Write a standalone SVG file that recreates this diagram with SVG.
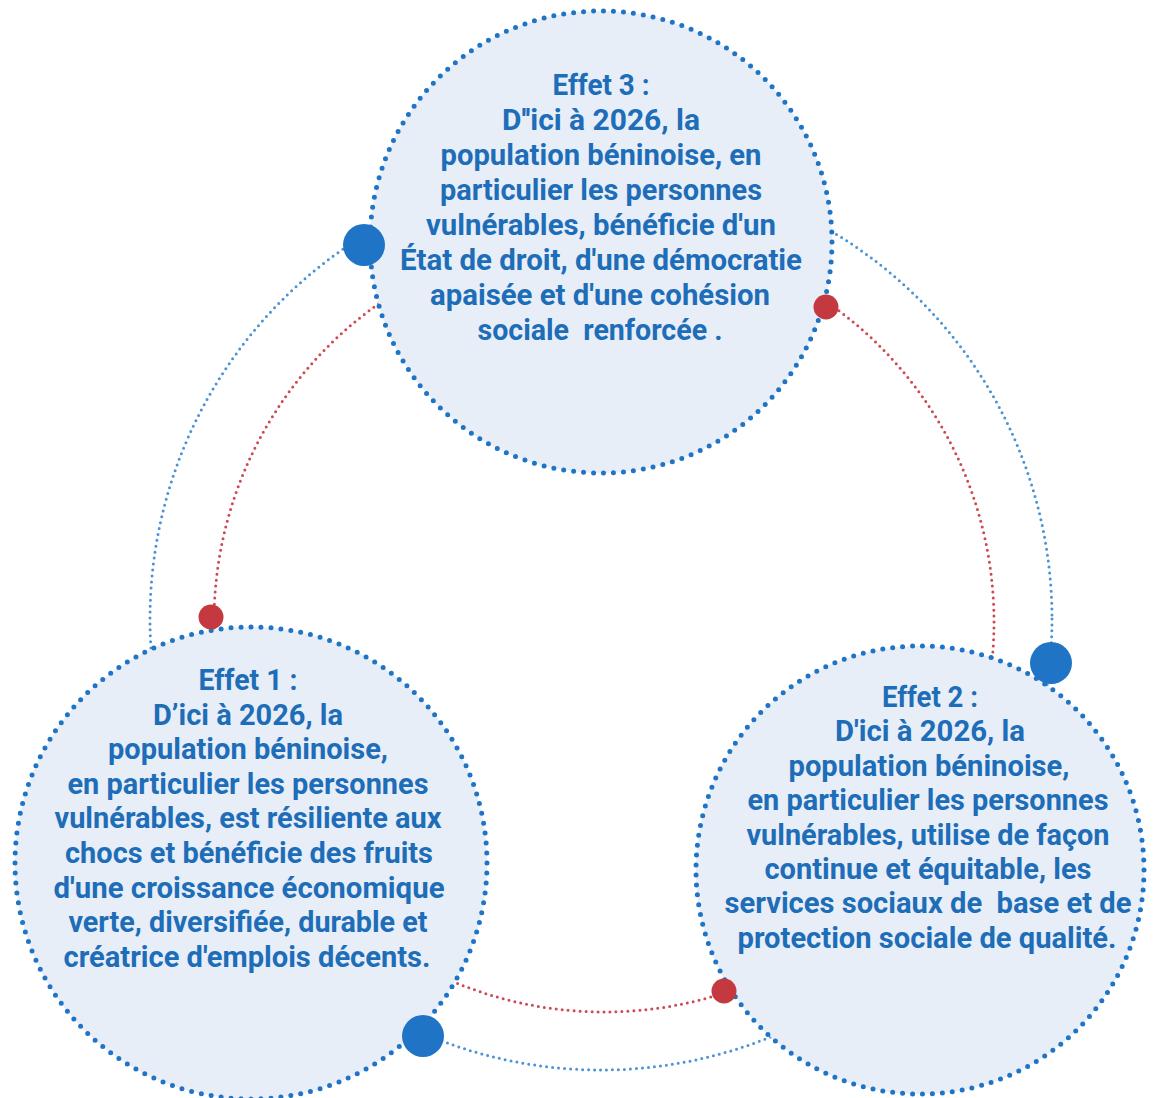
<svg xmlns="http://www.w3.org/2000/svg" width="1157" height="1098" viewBox="0 0 1157 1098">
<style>
.bubble{fill:#e8eef7;stroke:#1f74c5;stroke-width:5;stroke-linecap:round;stroke-dasharray:0 10}
.arcb{fill:none;stroke:#4b92d6;stroke-width:3;stroke-linecap:round;stroke-dasharray:0 6}
.arcr{fill:none;stroke:#cc4a50;stroke-width:3;stroke-linecap:round;stroke-dasharray:0 6}
.t{font-family:Roboto,"Liberation Sans",sans-serif;font-weight:700;font-size:29px;fill:#1d6db8;text-anchor:middle;white-space:pre}
.bd{fill:#1f74c5}
.rd{fill:#c4393f}
</style>
<rect width="1157" height="1098" fill="#ffffff"/>
<g id="connectors">
<circle class="arcb" cx="601" cy="619" r="451" pathLength="2830"/>
<circle class="arcr" cx="604" cy="622" r="390" pathLength="2448"/>
</g>
<g id="effet3">
<circle class="bubble" cx="601" cy="242" r="231" pathLength="1450"/>
<text class="t" x="601" y="95" textLength="97" lengthAdjust="spacingAndGlyphs">Effet 3 :</text>
<text class="t" x="601" y="130" textLength="198" lengthAdjust="spacingAndGlyphs">D''ici à 2026, la</text>
<text class="t" x="601" y="165" textLength="321" lengthAdjust="spacingAndGlyphs">population béninoise, en</text>
<text class="t" x="601" y="200" textLength="322" lengthAdjust="spacingAndGlyphs">particulier les personnes</text>
<text class="t" x="601" y="235" textLength="350" lengthAdjust="spacingAndGlyphs">vulnérables, bénéficie d'un</text>
<text class="t" x="601" y="270" textLength="402" lengthAdjust="spacingAndGlyphs">État de droit, d'une démocratie</text>
<text class="t" x="600" y="305" textLength="340" lengthAdjust="spacingAndGlyphs">apaisée et d'une cohésion</text>
<text class="t" x="600" y="340" textLength="245" lengthAdjust="spacingAndGlyphs">sociale  renforcée .</text>
</g>
<g id="effet1">
<circle class="bubble" cx="251" cy="863" r="236" pathLength="1480"/>
<text class="t" x="248" y="690" textLength="99" lengthAdjust="spacingAndGlyphs">Effet 1 :</text>
<text class="t" x="248" y="725" textLength="190" lengthAdjust="spacingAndGlyphs">D’ici à 2026, la</text>
<text class="t" x="248" y="759" textLength="280" lengthAdjust="spacingAndGlyphs">population béninoise,</text>
<text class="t" x="248" y="794" textLength="361" lengthAdjust="spacingAndGlyphs">en particulier les personnes</text>
<text class="t" x="248" y="828" textLength="387" lengthAdjust="spacingAndGlyphs">vulnérables, est résiliente aux</text>
<text class="t" x="249" y="863" textLength="368" lengthAdjust="spacingAndGlyphs">chocs et bénéficie des fruits</text>
<text class="t" x="249" y="898" textLength="391" lengthAdjust="spacingAndGlyphs">d'une croissance économique</text>
<text class="t" x="248" y="932" textLength="359" lengthAdjust="spacingAndGlyphs">verte, diversifiée, durable et</text>
<text class="t" x="247" y="967" textLength="367" lengthAdjust="spacingAndGlyphs">créatrice d'emplois décents.</text>
</g>
<g id="effet2">
<circle class="bubble" cx="920" cy="870" r="224" pathLength="1410"/>
<text class="t" x="930" y="707" textLength="96" lengthAdjust="spacingAndGlyphs">Effet 2 :</text>
<text class="t" x="930" y="741" textLength="190" lengthAdjust="spacingAndGlyphs">D'ici à 2026, la</text>
<text class="t" x="929" y="776" textLength="281" lengthAdjust="spacingAndGlyphs">population béninoise,</text>
<text class="t" x="928" y="810" textLength="361" lengthAdjust="spacingAndGlyphs">en particulier les personnes</text>
<text class="t" x="928" y="845" textLength="363" lengthAdjust="spacingAndGlyphs">vulnérables, utilise de façon</text>
<text class="t" x="928" y="879" textLength="327" lengthAdjust="spacingAndGlyphs">continue et équitable, les</text>
<text class="t" x="928" y="913" textLength="407" lengthAdjust="spacingAndGlyphs">services sociaux de  base et de</text>
<text class="t" x="927" y="948" textLength="379" lengthAdjust="spacingAndGlyphs">protection sociale de qualité.</text>
</g>
<g id="dots">
<circle class="bd" cx="364" cy="245" r="21"/>
<circle class="bd" cx="1051" cy="663" r="21"/>
<circle class="bd" cx="423" cy="1036" r="21"/>
<circle class="rd" cx="826" cy="307" r="12.5"/>
<circle class="rd" cx="211" cy="617" r="12.5"/>
<circle class="rd" cx="724" cy="991" r="12.5"/>
</g>
</svg>
